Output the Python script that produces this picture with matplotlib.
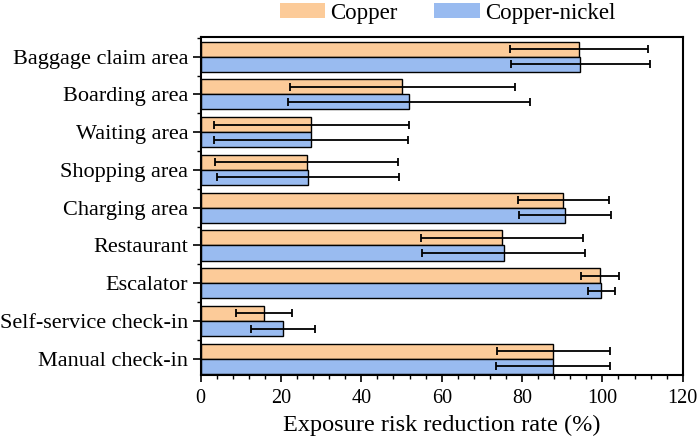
import numpy as np
import matplotlib.pyplot as plt
from matplotlib.patches import Patch
from matplotlib.ticker import MultipleLocator

plt.rcParams['font.family'] = ['Liberation Serif', 'DejaVu Serif']

# data, top to bottom as shown
areas = ['Baggage claim area', 'Boarding area', 'Waiting area', 'Shopping area',
         'Charging area', 'Restaurant', 'Escalator', 'Self-service check-in',
         'Manual check-in']
copper = [94.2, 50.2, 27.5, 26.4, 90.3, 75.1, 99.4, 15.8, 87.8]
copper_err = [17.1, 28.0, 24.3, 22.8, 11.3, 20.2, 4.7, 7.0, 14.0]
cuni = [94.5, 51.9, 27.5, 26.7, 90.7, 75.4, 99.7, 20.5, 87.8]
cuni_err = [17.3, 30.2, 24.2, 22.7, 11.5, 20.2, 3.4, 7.9, 14.2]

c_orange = '#FCCB99'
c_blue = '#99BBF0'

fig = plt.figure(figsize=(7, 4.44), dpi=100)
ax = fig.add_axes([0.2867, 0.1554, 0.6886, 0.7613])

n = len(areas)
y = np.arange(n)[::-1]
h = 0.4
ekw = dict(ecolor='black', elinewidth=1.3, capsize=3, capthick=1.3)

ax.barh(y + h / 2, copper, height=h, color=c_orange, edgecolor='black',
        linewidth=1.0, xerr=copper_err, error_kw=ekw)
ax.barh(y - h / 2, cuni, height=h, color=c_blue, edgecolor='black',
        linewidth=1.0, xerr=cuni_err, error_kw=ekw)

ax.set_xlim(0, 120)
ax.set_ylim(-0.43, n - 1 + 0.52)
ax.set_yticks(y)
ax.set_yticklabels(areas, fontsize=16)
ax.yaxis.set_minor_locator(MultipleLocator(1, offset=0.5))
ax.xaxis.set_major_locator(MultipleLocator(20))
ax.xaxis.set_minor_locator(MultipleLocator(4))
ax.tick_params(axis='x', which='major', direction='out', length=5, width=1.2,
               labelsize=14.5, pad=5)
ax.tick_params(axis='x', which='minor', direction='out', length=3, width=1.0)
ax.tick_params(axis='y', which='major', direction='out', length=6, width=1.2, pad=3)
ax.tick_params(axis='y', which='minor', direction='out', length=3, width=1.0)
ax.set_xlabel('Exposure risk reduction rate (%)', fontsize=17.5, labelpad=5)

for s in ax.spines.values():
    s.set_linewidth(1.5)
    s.set_color('black')

handles = [Patch(facecolor=c_orange, label='Copper'),
           Patch(facecolor=c_blue, label='Copper-nickel')]
fig.legend(handles=handles, loc='upper center', bbox_to_anchor=(0.639, 1.04),
           ncol=2, frameon=False, fontsize=16.5, handlelength=2.0,
           handleheight=0.65, columnspacing=1.57, handletextpad=0.22)

fig.savefig('out.png', dpi=100)
